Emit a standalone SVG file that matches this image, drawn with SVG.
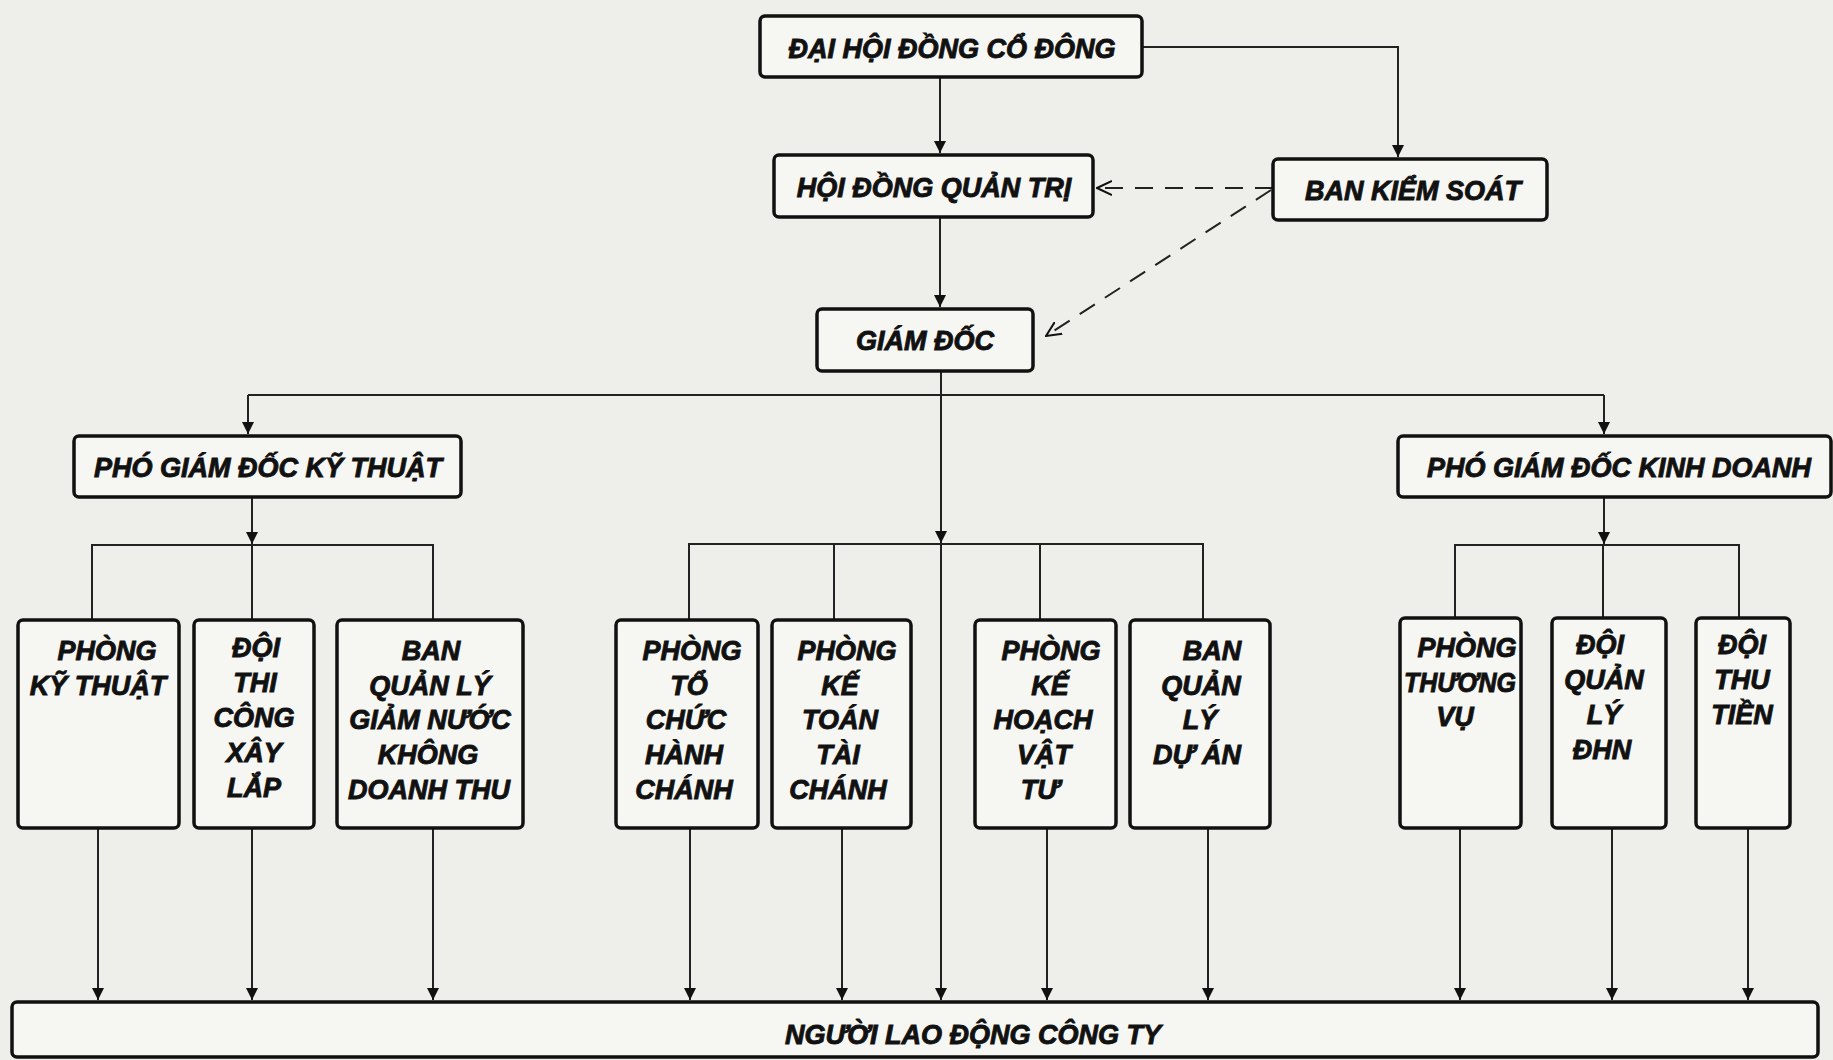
<svg xmlns="http://www.w3.org/2000/svg" width="1833" height="1060" viewBox="0 0 1833 1060">
<style>
.bx{fill:#f6f6f3;stroke:#111;stroke-width:3.5}
.t{font-family:"Liberation Sans",Arial,sans-serif;font-weight:bold;font-style:italic;font-size:27px;fill:#111;stroke:#111;stroke-width:0.9;text-anchor:middle}
.c{fill:none;stroke:#222;stroke-width:2}
.d{fill:none;stroke:#222;stroke-width:2;stroke-dasharray:18 12}
</style>
<defs>
<marker id="ar" markerUnits="userSpaceOnUse" markerWidth="12" markerHeight="20" viewBox="0 0 12 20" refX="12" refY="10" orient="auto">
<path d="M0,4 L12,10 L0,16 Z" fill="#111"/>
</marker>
<marker id="ao" markerUnits="userSpaceOnUse" markerWidth="16" markerHeight="16" viewBox="0 0 16 16" refX="15" refY="8" orient="auto">
<path d="M0,1 L15,8 L0,15" fill="none" stroke="#111" stroke-width="2"/>
</marker>
</defs>
<rect width="1833" height="1060" fill="#eeeeeb"/>
<g id="connectors">
<path class="c" d="M940,77 V153" marker-end="url(#ar)"/>
<path class="c" d="M1142,47 H1398 V157" marker-end="url(#ar)"/>
<path class="c" d="M940,217 V307" marker-end="url(#ar)"/>
<path class="d" d="M1273,188 H1097" marker-end="url(#ao)"/>
<path class="d" d="M1271,190 L1046,336" marker-end="url(#ao)"/>
<path class="c" d="M941,371 V1000" marker-end="url(#ar)"/>
<path class="c" d="M248,395 H1604"/>
<path class="c" d="M248,395 V434" marker-end="url(#ar)"/>
<path class="c" d="M1604,395 V434" marker-end="url(#ar)"/>
<path class="c" d="M252,497 V544" marker-end="url(#ar)"/>
<path class="c" d="M92,620 V545 H433 V620 M252,545 V620"/>
<path class="c" d="M941,520 V543" marker-end="url(#ar)"/>
<path class="c" d="M689,620 V544 H1203 V620 M834,544 V620 M1040,544 V620"/>
<path class="c" d="M1604,497 V544" marker-end="url(#ar)"/>
<path class="c" d="M1455,618 V545 H1739 V618 M1603,545 V618"/>
<path class="c" d="M98,828 V1000" marker-end="url(#ar)"/>
<path class="c" d="M252,828 V1000" marker-end="url(#ar)"/>
<path class="c" d="M433,828 V1000" marker-end="url(#ar)"/>
<path class="c" d="M690,828 V1000" marker-end="url(#ar)"/>
<path class="c" d="M842,828 V1000" marker-end="url(#ar)"/>
<path class="c" d="M1047,828 V1000" marker-end="url(#ar)"/>
<path class="c" d="M1208,828 V1000" marker-end="url(#ar)"/>
<path class="c" d="M1460,828 V1000" marker-end="url(#ar)"/>
<path class="c" d="M1612,828 V1000" marker-end="url(#ar)"/>
<path class="c" d="M1748,828 V1000" marker-end="url(#ar)"/>
</g>
<g id="dhdcd"><rect class="bx" x="760" y="16" width="382" height="61" rx="5"/><text class="t" x="952" y="58">ĐẠI HỘI ĐỒNG CỔ ĐÔNG</text></g>
<g id="hdqt"><rect class="bx" x="774" y="155" width="319" height="62" rx="5"/><text class="t" x="934" y="197">HỘI ĐỒNG QUẢN TRỊ</text></g>
<g id="bks"><rect class="bx" x="1273" y="159" width="274" height="61" rx="5"/><text class="t" x="1413" y="200">BAN KIỂM SOÁT</text></g>
<g id="gd"><rect class="bx" x="817" y="309" width="216" height="62" rx="5"/><text class="t" x="925" y="350">GIÁM ĐỐC</text></g>
<g id="pgdkt"><rect class="bx" x="74" y="436" width="387" height="61" rx="5"/><text class="t" x="268" y="477">PHÓ GIÁM ĐỐC KỸ THUẬT</text></g>
<g id="pgdkd"><rect class="bx" x="1398" y="436" width="433" height="61" rx="5"/><text class="t" x="1619" y="477">PHÓ GIÁM ĐỐC KINH DOANH</text></g>
<g id="pkt"><rect class="bx" x="18" y="620" width="161" height="208" rx="5"/><text class="t" x="107" y="660">PHÒNG</text><text class="t" x="98" y="695">KỸ THUẬT</text></g>
<g id="dtc"><rect class="bx" x="194" y="620" width="120" height="208" rx="5"/><text class="t" x="256" y="657">ĐỘI</text><text class="t" x="255" y="692">THI</text><text class="t" x="254" y="727">CÔNG</text><text class="t" x="254" y="762">XÂY</text><text class="t" x="254" y="797">LẮP</text></g>
<g id="bqlgn"><rect class="bx" x="337" y="620" width="186" height="208" rx="5"/><text class="t" x="431" y="660">BAN</text><text class="t" x="430" y="695">QUẢN LÝ</text><text class="t" x="430" y="729">GIẢM NƯỚC</text><text class="t" x="428" y="764">KHÔNG</text><text class="t" x="429" y="799">DOANH THU</text></g>
<g id="ptchc"><rect class="bx" x="616" y="620" width="142" height="208" rx="5"/><text class="t" x="692" y="660">PHÒNG</text><text class="t" x="689" y="695">TỔ</text><text class="t" x="686" y="729">CHỨC</text><text class="t" x="684" y="764">HÀNH</text><text class="t" x="684" y="799">CHÁNH</text></g>
<g id="pkttc"><rect class="bx" x="772" y="620" width="139" height="208" rx="5"/><text class="t" x="847" y="660">PHÒNG</text><text class="t" x="840" y="695">KẾ</text><text class="t" x="840" y="729">TOÁN</text><text class="t" x="838" y="764">TÀI</text><text class="t" x="838" y="799">CHÁNH</text></g>
<g id="pkhvt"><rect class="bx" x="975" y="620" width="141" height="208" rx="5"/><text class="t" x="1051" y="660">PHÒNG</text><text class="t" x="1050" y="695">KẾ</text><text class="t" x="1043" y="729">HOẠCH</text><text class="t" x="1044" y="764">VẬT</text><text class="t" x="1040" y="799">TƯ</text></g>
<g id="bqlda"><rect class="bx" x="1130" y="620" width="140" height="208" rx="5"/><text class="t" x="1212" y="660">BAN</text><text class="t" x="1201" y="695">QUẢN</text><text class="t" x="1200" y="729">LÝ</text><text class="t" x="1197" y="764">DỰ ÁN</text></g>
<g id="ptv"><rect class="bx" x="1400" y="618" width="121" height="210" rx="5"/><text class="t" x="1467" y="657">PHÒNG</text><text class="t" x="1460" y="692" textLength="112" lengthAdjust="spacingAndGlyphs">THƯƠNG</text><text class="t" x="1455" y="726">VỤ</text></g>
<g id="dql"><rect class="bx" x="1552" y="618" width="114" height="210" rx="5"/><text class="t" x="1600" y="654">ĐỘI</text><text class="t" x="1604" y="689">QUẢN</text><text class="t" x="1604" y="724">LÝ</text><text class="t" x="1602" y="759">ĐHN</text></g>
<g id="dtt"><rect class="bx" x="1696" y="618" width="94" height="210" rx="5"/><text class="t" x="1742" y="654">ĐỘI</text><text class="t" x="1742" y="689">THU</text><text class="t" x="1742" y="724">TIỀN</text></g>
<g id="nld"><rect class="bx" x="12" y="1002" width="1806" height="55" rx="5"/><text class="t" x="973" y="1044">NGƯỜI LAO ĐỘNG CÔNG TY</text></g>
</svg>
